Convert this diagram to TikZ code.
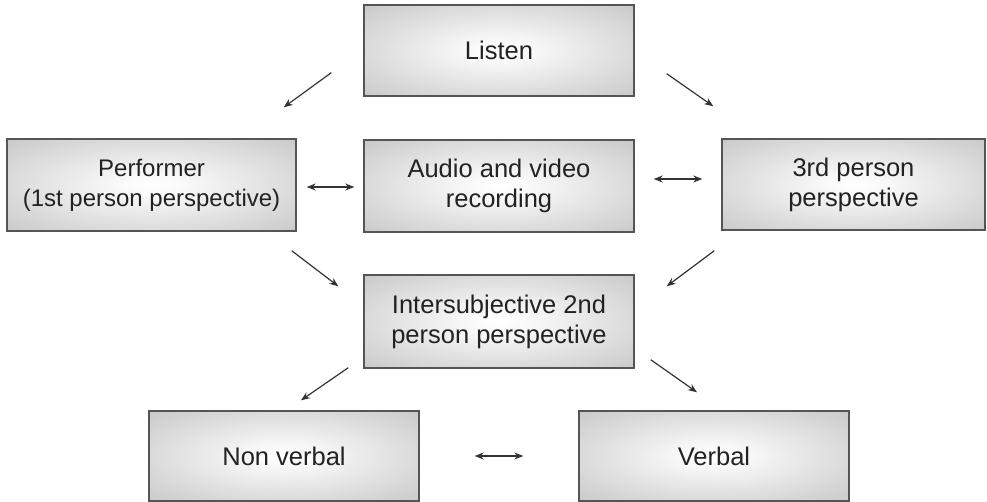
\documentclass[tikz,border=0pt]{standalone}
\usepackage{fontspec}
\setmainfont{Liberation Sans}
\usetikzlibrary{arrows.meta}
\definecolor{boxedge}{HTML}{555555}
\definecolor{txt}{HTML}{222222}
\definecolor{arrcol}{HTML}{333333}
\definecolor{shadeout}{HTML}{B2B2B2}
\definecolor{shadecorner}{HTML}{9E9E9E}
\pgfdeclareradialshading{boxshade}{\pgfpoint{0bp}{0bp}}{%
  color(0bp)=(white);
  color(5bp)=(white!98!black);
  color(50bp)=(shadeout);
  color(72bp)=(shadecorner)}
\begin{document}
\begin{tikzpicture}[x=1pt,y=-1pt,
  box/.style={draw=boxedge, line width=1.4pt, shading=boxshade, rectangle,
    inner sep=0pt, align=center, text=txt,
    font=\fontsize{25.5}{30}\selectfont},
  arr/.style={draw=arrcol, line width=1.2pt, -{Stealth[length=9pt,width=7pt]}},
  darr/.style={draw=arrcol, line width=1.2pt, {Stealth[length=9pt,width=7pt]}-{Stealth[length=9pt,width=7pt]}}]
\useasboundingbox (0,0) rectangle (987,502);

\node[box, minimum width=270pt, minimum height=91pt] (listen) at (499,50.5) {Listen};
\node[box, minimum width=289pt, minimum height=92pt, font=\fontsize{24}{30}\selectfont] (perf) at (151.5,185) {Performer\\(1st person perspective)};
\node[box, minimum width=270pt, minimum height=92pt] (audio) at (499,186) {Audio and video\\recording};
\node[box, minimum width=263pt, minimum height=91pt] (third) at (853.5,184.5) {3rd person\\perspective};
\node[box, minimum width=270pt, minimum height=93pt] (inter) at (499,321.5) {Intersubjective 2nd\\person perspective};
\node[box, minimum width=270pt, minimum height=90pt] (nonverbal) at (284,456) {Non verbal};
\node[box, minimum width=270pt, minimum height=90pt] (verbal) at (714,456) {Verbal};

\draw[arr] ([shift={(-32,-24)}]listen.south west) -- ([shift={(-13,-31)}]perf.north east);
\draw[arr] ([shift={(32,-23)}]listen.south east) -- ([shift={(-8,-32)}]third.north west);
\draw[darr] ([shift={(10,2)}]perf.east) -- ([shift={(-9,1)}]audio.west);
\draw[darr] ([shift={(19,-7)}]audio.east) -- ([shift={(-19,-5.5)}]third.west);
\draw[arr] ([shift={(-5,19)}]perf.south east) -- ([shift={(-25,12)}]inter.north west);
\draw[arr] ([shift={(-7,20)}]third.south west) -- ([shift={(32,12)}]inter.north east);
\draw[arr] ([shift={(-15,-1)}]inter.south west) -- ([shift={(17,-10)}]nonverbal.north);
\draw[arr] ([shift={(16,-9)}]inter.south east) -- ([shift={(-17,-18)}]verbal.north);
\draw[darr] ([shift={(55,0)}]nonverbal.east) -- ([shift={(-55,0)}]verbal.west);
\end{tikzpicture}
\end{document}
